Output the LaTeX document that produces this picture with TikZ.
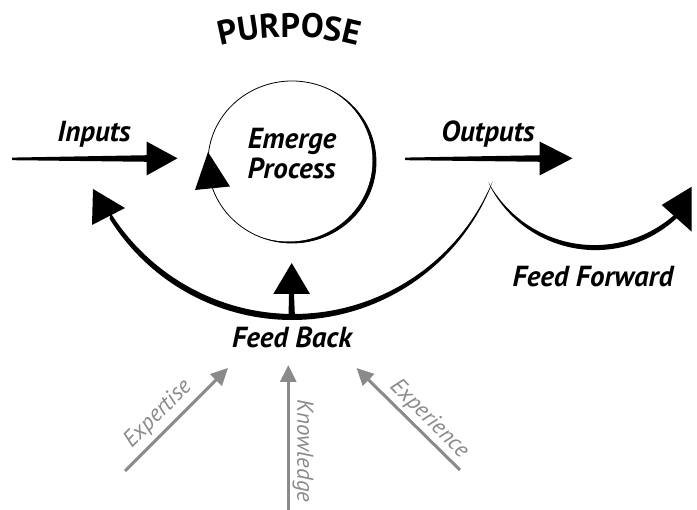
\documentclass[tikz,border=0pt]{standalone}
\usepackage{fontspec}
\setmainfont{PT Sans}
\usetikzlibrary{arrows.meta,decorations.text}
\definecolor{inkgray}{HTML}{8A8A8A}
\tikzset{
  lbl/.style={font=\fontsize{29}{29}\selectfont\bfseries\itshape, text=black, inner sep=0pt, anchor=base},
  glbl/.style={font=\fontsize{23}{23}\selectfont\itshape, text=inkgray, inner sep=0pt},
  garrow/.style={draw=inkgray, line width=3pt, -{Triangle[length=17pt,width=16pt]}},
  ink/.style={fill=black, draw=none}
}
\begin{document}
\begin{tikzpicture}[x=1pt,y=-1pt]
\useasboundingbox (0,0) rectangle (697,510);
% PURPOSE along an arc
\path[decorate, decoration={text along path, text align=center,
  text={|\fontsize{34}{34}\selectfont\bfseries|PURPOSE}}]
  plot[domain=240:300, samples=50] ({289+270*cos(\x)},{307+270*sin(\x)});
% main circle (calligraphic stroke)
\coordinate (cc) at (292,162);
\fill[black] (cc) ellipse[x radius=84, y radius=81];
\fill[white] (288.5,160.5) ellipse[x radius=84, y radius=81];
\draw[line width=0.8pt] (cc) ellipse[x radius=84, y radius=81];
\fill[ink] (208,152) -- (230,186.5) -- (195,190) -- cycle;
\node[lbl] (em) at (292,149) {Emerge};
\node[lbl] (pr) at (291.5,179) {Process};
% Inputs arrow
\coordinate (in0) at (12,157.6);
\fill[ink] (in0) -- (148,155.2) -- (148,161.8) -- (12,160.2) -- cycle;
\fill[ink] (146.5,141.5) -- (177.5,158.3) -- (146.5,175.5) -- cycle;
\node[lbl] (inputs) at (94,142) {Inputs};
% Outputs arrow
\coordinate (out0) at (405,157.6);
\fill[ink] (out0) -- (542,155.2) -- (542,161.8) -- (405,160.2) -- cycle;
\fill[ink] (539.5,141.5) -- (572.5,158.3) -- (539.5,175.5) -- cycle;
\node[lbl] (outputs) at (488,142) {Outputs};
% Feed back arc
\coordinate (cusp) at (490.5,188);
\fill[ink] plot[domain=22.7:148, samples=80] ({292+215*cos(\x)},{105+215*sin(\x)})
  -- plot[domain=148:22.7, samples=80] ({293.4+215.8*cos(\x)},{98.2+215.8*sin(\x)}) -- cycle;
\fill[ink] (93,189) -- (125,208) -- (92,225) -- cycle;
% up arrow from feed back to circle
\fill[ink] (288.5,318) -- (289,294) -- (294,294) -- (295,318) -- cycle;
\fill[ink] (291.7,263) -- (310,294) -- (273.3,294) -- cycle;
\node[lbl] (fb) at (292,348) {Feed Back};
% Feed forward arc
\fill[ink] plot[domain=151.4:46.9, samples=80] ({595.6+119.1*cos(\x)},{131+119.1*sin(\x)})
  -- plot[domain=46.9:151.4, samples=80] ({594.4+120.8*cos(\x)},{124.3+120.8*sin(\x)}) -- cycle;
\fill[ink] (691.7,186.7) -- (691.7,231.7) -- (661.7,205) -- cycle;
\node[lbl] (ff) at (593,287) {Feed Forward};
% gray inputs to feed back
\coordinate (ex0) at (125,471);
\coordinate (ex1) at (228,368);
\coordinate (kn0) at (288.3,512);
\coordinate (kn1) at (288.3,365);
\coordinate (xp0) at (460,470);
\coordinate (xp1) at (356.5,368);
\draw[garrow] (ex0) -- (ex1);
\draw[garrow] (kn0) -- (kn1);
\draw[garrow] (xp0) -- (xp1);
\node[glbl, rotate=45] (expertise) at (158,414) {Expertise};
\node[glbl, rotate=-90] (knowledge) at (303,451) {Knowledge};
\node[glbl, rotate=-45] (experience) at (429,419) {Experience};
\end{tikzpicture}
\end{document}
